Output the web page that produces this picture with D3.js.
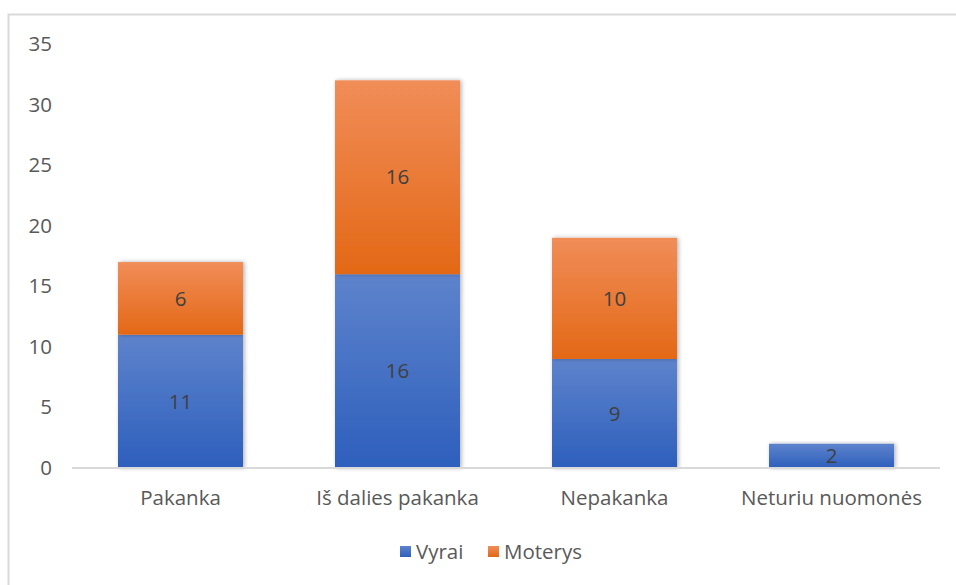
<!DOCTYPE html>
<html lang="lt">
<head>
<meta charset="utf-8">
<title>Vyrai / Moterys</title>
<script src="https://d3js.org/d3.v7.min.js"></script>
<style>
  body { margin: 0; background: #fff; }
  text { font-family: "Open Sans", "Noto Sans", sans-serif; }
</style>
</head>
<body>
<script>
const categories = ["Pakanka", "Iš dalies pakanka", "Nepakanka", "Neturiu nuomonės"];
const vyrai = [11, 16, 9, 2];
const moterys = [6, 16, 10, 0];
const seriesNames = ["Vyrai", "Moterys"];
const yTicks = [0, 5, 10, 15, 20, 25, 30, 35];

const w = 956, h = 585;
const plotLeft = 72, plotRight = 940, plotTop = 44, plotBottom = 468;
const fontSize = 20.5;

const svg = d3.select("body").append("svg")
  .attr("width", w).attr("height", h);

const defs = svg.append("defs");
function grad(id, c1, c2) {
  const g = defs.append("linearGradient").attr("id", id)
    .attr("x1", 0).attr("y1", 0).attr("x2", 0).attr("y2", 1);
  g.append("stop").attr("offset", "0%").attr("stop-color", c1);
  g.append("stop").attr("offset", "100%").attr("stop-color", c2);
}
grad("gBlue", "#5e83cc", "#2d5fbc");
grad("gOrange", "#f18d58", "#e36816");
const shadow = defs.append("filter").attr("id", "sh")
  .attr("x", "-10%").attr("y", "-10%").attr("width", "130%").attr("height", "120%");
shadow.append("feDropShadow").attr("dx", 1.5).attr("dy", 0).attr("stdDeviation", 2)
  .attr("flood-color", "#000").attr("flood-opacity", 0.3);

// chart border (only top and left visible)
svg.append("rect")
  .attr("x", 8.5).attr("y", 14.5).attr("width", 1000).attr("height", 700)
  .attr("fill", "none").attr("stroke", "#d9d9d9").attr("stroke-width", 2);

const x = d3.scaleBand().domain(categories).range([plotLeft, plotRight]).paddingInner(0.424).paddingOuter(0.212);
const y = d3.scaleLinear().domain([0, 35]).range([plotBottom, plotTop]);

const data = categories.map((c, i) => ({ c, v: vyrai[i], m: moterys[i] }));
const stack = d3.stack().keys(["v", "m"])(data);
const fills = ["url(#gBlue)", "url(#gOrange)"];

stack.forEach((layer, li) => {
  svg.append("g").selectAll("rect").data(layer.filter(d => d[1] > d[0])).enter()
    .append("rect")
    .attr("x", d => x(d.data.c))
    .attr("y", d => y(d[1]))
    .attr("width", x.bandwidth())
    .attr("height", d => y(d[0]) - y(d[1]))
    .attr("fill", fills[li])
    .attr("filter", "url(#sh)");
});

// labels
stack.forEach(layer => {
  svg.append("g").selectAll("text").data(layer.filter(d => d[1] > d[0])).enter()
    .append("text")
    .attr("x", d => x(d.data.c) + x.bandwidth() / 2)
    .attr("y", d => (y(d[0]) + y(d[1])) / 2)
    .attr("dy", "0.35em")
    .attr("text-anchor", "middle")
    .attr("font-size", fontSize)
    .attr("fill", "#404040")
    .text(d => d[1] - d[0]);
});

// y axis labels
const yAxis = d3.axisLeft(y).tickValues(yTicks).tickSize(0).tickPadding(0);
const gy = svg.append("g").attr("transform", "translate(52,0)").call(yAxis);
gy.select(".domain").remove();
gy.selectAll("text").attr("font-size", fontSize).attr("fill", "#595959")
  .attr("font-family", "'Open Sans', sans-serif");

// baseline
svg.append("line")
  .attr("x1", plotLeft).attr("x2", plotRight).attr("y1", y(0)).attr("y2", y(0))
  .attr("stroke", "#d9d9d9").attr("stroke-width", 2);

// x axis labels
const xAxis = d3.axisBottom(x).tickSize(0).tickPadding(22);
const gx = svg.append("g").attr("transform", `translate(0,${plotBottom})`).call(xAxis);
gx.select(".domain").remove();
gx.selectAll("text").attr("font-size", fontSize).attr("fill", "#595959")
  .attr("font-family", "'Open Sans', sans-serif");

// legend
const legX = [400, 488];
const leg = svg.append("g");
seriesNames.forEach((n, i) => {
  leg.append("rect").attr("x", legX[i]).attr("y", 546).attr("width", 11).attr("height", 11)
    .attr("fill", fills[i]);
  leg.append("text").attr("x", legX[i] + 16).attr("y", 552).attr("dy", "0.35em")
    .attr("font-size", fontSize).attr("fill", "#595959").text(n);
});
</script>
</body>
</html>
